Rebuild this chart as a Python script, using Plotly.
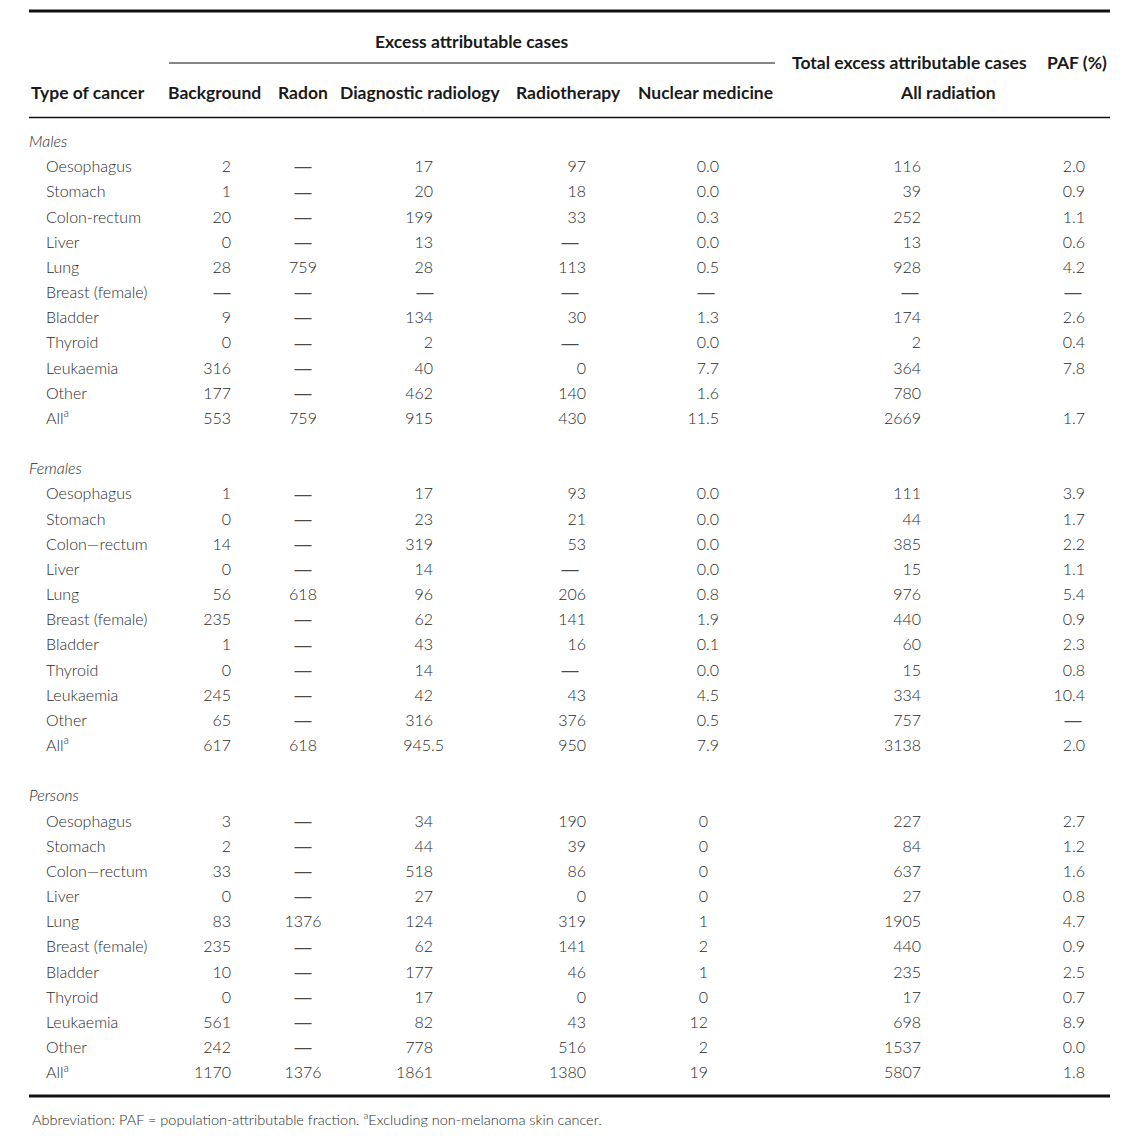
import plotly.graph_objects as go

W, H = 1127, 1136

# ---- data -------------------------------------------------------------
sections = ["Males", "Females", "Persons"]

male_types = ["Oesophagus", "Stomach", "Colon-rectum", "Liver", "Lung", "Breast (female)",
              "Bladder", "Thyroid", "Leukaemia", "Other", "All<sup>a</sup>"]
female_types = ["Oesophagus", "Stomach", "Colon\u2014rectum", "Liver", "Lung", "Breast (female)",
                "Bladder", "Thyroid", "Leukaemia", "Other", "All<sup>a</sup>"]
person_types = female_types

D = "\u2014"

males_background = ["2", "1", "20", "0", "28", D, "9", "0", "316", "177", "553"]
males_radon = [D, D, D, D, "759", D, D, D, D, D, "759"]
males_diagnostic = ["17", "20", "199", "13", "28", D, "134", "2", "40", "462", "915"]
males_radiotherapy = ["97", "18", "33", D, "113", D, "30", D, "0", "140", "430"]
males_nuclear = ["0.0", "0.0", "0.3", "0.0", "0.5", D, "1.3", "0.0", "7.7", "1.6", "11.5"]
males_total = ["116", "39", "252", "13", "928", D, "174", "2", "364", "780", "2669"]
males_paf = ["2.0", "0.9", "1.1", "0.6", "4.2", D, "2.6", "0.4", "7.8", "", "1.7"]

females_background = ["1", "0", "14", "0", "56", "235", "1", "0", "245", "65", "617"]
females_radon = [D, D, D, D, "618", D, D, D, D, D, "618"]
females_diagnostic = ["17", "23", "319", "14", "96", "62", "43", "14", "42", "316", "945.5"]
females_radiotherapy = ["93", "21", "53", D, "206", "141", "16", D, "43", "376", "950"]
females_nuclear = ["0.0", "0.0", "0.0", "0.0", "0.8", "1.9", "0.1", "0.0", "4.5", "0.5", "7.9"]
females_total = ["111", "44", "385", "15", "976", "440", "60", "15", "334", "757", "3138"]
females_paf = ["3.9", "1.7", "2.2", "1.1", "5.4", "0.9", "2.3", "0.8", "10.4", D, "2.0"]

persons_background = ["3", "2", "33", "0", "83", "235", "10", "0", "561", "242", "1170"]
persons_radon = [D, D, D, D, "1376", D, D, D, D, D, "1376"]
persons_diagnostic = ["34", "44", "518", "27", "124", "62", "177", "17", "82", "778", "1861"]
persons_radiotherapy = ["190", "39", "86", "0", "319", "141", "46", "0", "43", "516", "1380"]
persons_nuclear = ["0", "0", "0", "0", "1", "2", "1", "0", "12", "2", "19"]
persons_total = ["227", "84", "637", "27", "1905", "440", "235", "17", "698", "1537", "5807"]
persons_paf = ["2.7", "1.2", "1.6", "0.8", "4.7", "0.9", "2.5", "0.7", "8.9", "0.0", "1.8"]

section_data = [
    (male_types, [males_background, males_radon, males_diagnostic, males_radiotherapy,
                  males_nuclear, males_total, males_paf]),
    (female_types, [females_background, females_radon, females_diagnostic, females_radiotherapy,
                    females_nuclear, females_total, females_paf]),
    (person_types, [persons_background, persons_radon, persons_diagnostic, persons_radiotherapy,
                    persons_nuclear, persons_total, persons_paf]),
]

# ---- layout (target pixel positions in the page) ----------------------
PAGE_OFF = 8          # default body margin of the html page
int_end = [231, None, 433, 586, 708, 921, 1074]     # right edge of integer part
dash_mid = [222, 303, 425, 570, 706, 910, 1073]
radon_mid = 303
frac_w = 11
row0_px, row_h = 143, 25.17
sec_rows = 13
label_x, section_x = 46, 29

FONT = "Lato"
TXT = "#2b2b2b"

FW, FH = W - PAGE_OFF, H - PAGE_OFF


def ypaper(px):
    return 1 - (px - PAGE_OFF) / FH


num_x, num_y, num_t = [], [], []
mid_x, mid_y, mid_t = [], [], []
dash_x, dash_y, dash_t = [], [], []
lab_x, lab_y, lab_t = [], [], []
sec_x, sec_y, sec_t = [], [], []

for s, (types, cols) in enumerate(section_data):
    base = s * sec_rows
    sec_x.append(section_x); sec_y.append(base); sec_t.append("<i>%s</i>" % sections[s])
    for i, name in enumerate(types):
        r = base + i + 1
        lab_x.append(label_x); lab_y.append(r); lab_t.append(name)
        for c, col in enumerate(cols):
            v = col[i]
            if v == "":
                continue
            if v == D:
                dash_x.append(dash_mid[c]); dash_y.append(r); dash_t.append(v)
            elif int_end[c] is None:
                mid_x.append(radon_mid); mid_y.append(r); mid_t.append(v)
            else:
                off = frac_w if "." in v else 0
                num_x.append(int_end[c] + off); num_y.append(r); num_t.append(v)

body_font = dict(family=FONT, size=16, color=TXT, weight=300)

fig = go.Figure()
fig.add_trace(go.Scatter(x=sec_x, y=sec_y, text=sec_t, mode="text", textposition="middle right",
                         textfont=body_font, hoverinfo="skip"))
fig.add_trace(go.Scatter(x=lab_x, y=lab_y, text=lab_t, mode="text", textposition="middle right",
                         textfont=body_font, hoverinfo="skip"))
fig.add_trace(go.Scatter(x=num_x, y=num_y, text=num_t, mode="text", textposition="middle left",
                         textfont=body_font, hoverinfo="skip"))
fig.add_trace(go.Scatter(x=mid_x, y=mid_y, text=mid_t, mode="text", textposition="middle center",
                         textfont=body_font, hoverinfo="skip"))
fig.add_trace(go.Scatter(x=dash_x, y=dash_y, text=dash_t, mode="text", textposition="middle center",
                         textfont=dict(family="Liberation Sans", size=17, color="#4a4a4a"),
                         hoverinfo="skip"))

# header texts
hfont = dict(family="Lato", size=17.5, color="#1a1a1a", weight=700)
head_row = 92
headers = [
    ("Type of cancer", 29, head_row, "left"),
    ("Background", 214, head_row, "center"),
    ("Radon", 303, head_row, "center"),
    ("Diagnostic radiology", 420, head_row, "center"),
    ("Radiotherapy", 568, head_row, "center"),
    ("Nuclear medicine", 705, head_row, "center"),
    ("All radiation", 948, head_row, "center"),
    ("Excess attributable cases", 472, 41, "center"),
    ("Total excess attributable cases", 909, 63, "center"),
    ("PAF (%)", 1077, 63, "center"),
]
for text, x, y, anc in headers:
    fig.add_annotation(x=x, y=ypaper(y), xref="x", yref="paper", text=text, showarrow=False,
                       xanchor=anc, yanchor="middle", font=hfont)

fig.add_annotation(x=30, y=ypaper(1118), xref="x", yref="paper", showarrow=False,
                   xanchor="left", yanchor="middle",
                   text="Abbreviation: PAF = population-attributable fraction. "
                        "<sup>a</sup>Excluding non-melanoma skin cancer.",
                   font=dict(family=FONT, size=14.5, color=TXT, weight=300))

# rules
rules = [(29, 1110, 11, 3), (169, 775, 63, 1.2), (29, 1110, 117.5, 1.5), (29, 1110, 1096, 3)]
for x0, x1, y, w in rules:
    fig.add_shape(type="line", xref="x", yref="paper", x0=x0, x1=x1, y0=ypaper(y), y1=ypaper(y),
                  line=dict(color="#111", width=w))

top_r = -(row0_px - PAGE_OFF) / row_h
bot_r = (FH - (row0_px - PAGE_OFF)) / row_h
fig.update_layout(
    width=FW, height=FH, margin=dict(l=0, r=0, t=0, b=0),
    paper_bgcolor="white", plot_bgcolor="white", showlegend=False,
    xaxis=dict(range=[PAGE_OFF, PAGE_OFF + FW], visible=False, fixedrange=True),
    yaxis=dict(range=[bot_r, top_r], visible=False, fixedrange=True),
)

fig.write_html("out.html")
